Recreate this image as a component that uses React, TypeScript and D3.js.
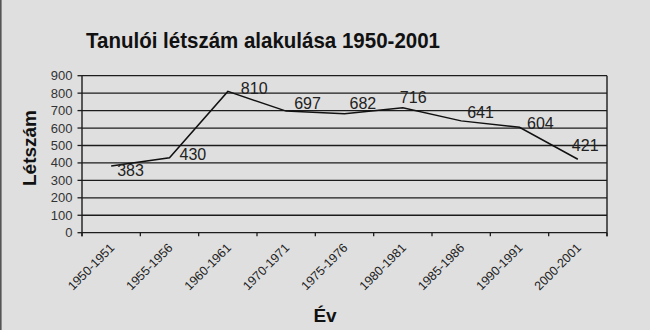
import React from "react";
import * as d3 from "d3";

const categories = [
  "1950-1951", "1955-1956", "1960-1961", "1970-1971", "1975-1976",
  "1980-1981", "1985-1986", "1990-1991", "2000-2001",
];
const values = [383, 430, 810, 697, 682, 716, 641, 604, 421];
const yTicks = [0, 100, 200, 300, 400, 500, 600, 700, 800, 900];
const titleText = "Tanulói létszám alakulása 1950-2001";
const yTitle = "Létszám";
const xTitle = "Év";
// label offsets relative to each point (style only)
const labelOffsets: [number, number][] = [
  [6, 10], [10, 2], [13, 3], [8, -2], [5, -5], [-3, -5], [6, -3], [7.5, 2], [-6, -8],
];

const W = 650, H = 330;
const left = 82, right = 607, top = 75.7, bottom = 232.7;
const font = "'Liberation Sans', Arial, sans-serif";

export default function App() {
  const x = d3.scaleBand<string>().domain(categories).range([left, right]);
  const y = d3.scaleLinear().domain([0, 900]).range([bottom, top]);
  const cx = (c: string) => (x(c) as number) + x.bandwidth() / 2;
  const line = d3
    .line<number>()
    .x((_, i) => cx(categories[i]))
    .y((d) => y(d));
  const boundaries = categories.map((c) => x(c) as number).concat([right]);

  return (
    <svg
      width={W}
      height={H}
      style={{ position: "absolute", left: 0, top: 0, background: "#dfdfdf" }}
      fontFamily={font}
    >
      <rect x={0} y={0} width={W} height={H} fill="#dfdfdf" />
      <rect x={0} y={0} width={1.6} height={H} fill="#555" />
      <text
        x={263}
        y={48}
        textAnchor="middle"
        fontSize={21.5}
        fontWeight="bold"
        fill="#111"
        textLength={354}
        lengthAdjust="spacingAndGlyphs"
      >
        {titleText}
      </text>
      {/* gridlines */}
      {yTicks.map((t) => (
        <line key={"g" + t} x1={left} x2={right} y1={y(t)} y2={y(t)} stroke="#1c1c1c" strokeWidth={1.3} />
      ))}
      {/* y ticks and labels */}
      {yTicks.map((t) => (
        <g key={"y" + t}>
          <line x1={left - 4.5} x2={left} y1={y(t)} y2={y(t)} stroke="#1c1c1c" strokeWidth={1.3} />
          <text x={left - 9.5} y={y(t) + 4.5} textAnchor="end" fontSize={13} fill="#333">
            {t}
          </text>
        </g>
      ))}
      {/* axes */}
      <line x1={left} x2={left} y1={top} y2={bottom + 3.5} stroke="#1c1c1c" strokeWidth={1.4} />
      <line x1={right} x2={right} y1={top} y2={bottom + 3.5} stroke="#1c1c1c" strokeWidth={1.4} />
      {boundaries.map((b, i) => (
        <line key={"xt" + i} x1={b} x2={b} y1={bottom} y2={bottom + 3.5} stroke="#1c1c1c" strokeWidth={1.3} />
      ))}
      {categories.map((c) => (
        <text
          key={"xl" + c}
          transform={`translate(${cx(c) + 4},${bottom + 16}) rotate(-45)`}
          textAnchor="end"
          fontSize={12.5}
          fill="#222"
        >
          {c}
        </text>
      ))}
      {/* data line */}
      <path d={line(values) || ""} fill="none" stroke="#111" strokeWidth={1.5} />
      {values.map((v, i) => (
        <text
          key={"dl" + i}
          x={cx(categories[i]) + labelOffsets[i][0]}
          y={y(v) + labelOffsets[i][1]}
          fontSize={16}
          fill="#222"
        >
          {v}
        </text>
      ))}
      {/* axis titles */}
      <text
        transform={`translate(36,148) rotate(-90)`}
        textAnchor="middle"
        fontSize={19}
        fontWeight="bold"
        fill="#111"
      >
        {yTitle}
      </text>
      <text x={325} y={321.5} textAnchor="middle" fontSize={19} fontWeight="bold" fill="#111">
        {xTitle}
      </text>
    </svg>
  );
}
